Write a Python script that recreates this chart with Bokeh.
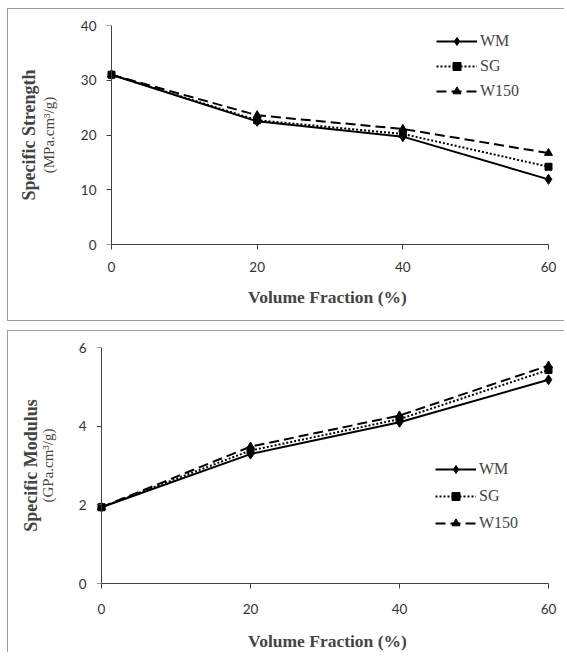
from bokeh.plotting import figure
from bokeh.models import LinearAxis, Legend, LegendItem, FixedTicker, Range1d
from bokeh.layouts import column
from bokeh.embed import file_html
from bokeh.resources import INLINE

# ---- data ----
volume_fraction = [0, 20, 40, 60]
strength_wm = [31.0, 22.5, 19.7, 11.9]
strength_sg = [31.0, 22.7, 20.2, 14.2]
strength_w150 = [31.0, 23.6, 21.1, 16.7]
modulus_wm = [1.94, 3.29, 4.10, 5.18]
modulus_sg = [1.94, 3.38, 4.18, 5.43]
modulus_w150 = [1.94, 3.48, 4.27, 5.54]
series_names = ["WM", "SG", "W150"]
strength_ticks = [0, 10, 20, 30, 40]
modulus_ticks = [0, 2, 4, 6]
x_ticks = [0, 20, 40, 60]

AXIS_COLOR = "#404040"
TICK_FONT = "Lato"
TITLE_FONT = "Liberation Serif"
PANEL_BORDER = "1px solid #9c9c9c"

styles_spec = [
    dict(line_dash="solid", marker="diamond", size=10),
    dict(line_dash="2 2", marker="square", size=7),
    dict(line_dash="10 5", marker="triangle", size=8),
]


def make_panel(width, height, xpad, ymax, yticks, series, title1, title2,
               borders, ystand, xstand, legend_loc, legend_spacing, css):
    p = figure(width=width, height=height, output_backend="svg",
               toolbar_location=None, x_range=Range1d(-xpad[0], 60 + xpad[1]),
               y_range=Range1d(0, ymax), y_axis_location=None,
               min_border_left=borders[0], min_border_top=borders[1],
               min_border_right=borders[2], min_border_bottom=borders[3],
               styles=css)
    p.grid.visible = False
    p.outline_line_color = None
    xa = p.xaxis[0]
    xa.ticker = FixedTicker(ticks=x_ticks)
    xa.bounds = (0, 60)
    # axis line + ticks drawn at x = 0
    ax_line = LinearAxis(ticker=FixedTicker(ticks=yticks), fixed_location=0,
                         major_label_overrides={t: "" for t in yticks},
                         major_label_standoff=0)
    p.add_layout(ax_line, "left")
    # tick labels and unit line of the title
    ax_lab = LinearAxis(ticker=FixedTicker(ticks=yticks), axis_label=title2,
                        major_tick_out=0, major_tick_in=0,
                        major_tick_line_color=None, minor_tick_line_color=None,
                        axis_line_color=None)
    p.add_layout(ax_lab, "left")
    ax_t = LinearAxis(ticker=FixedTicker(ticks=[]), axis_label=title1,
                      major_tick_out=0, major_tick_in=0,
                      major_tick_line_color=None, minor_tick_line_color=None,
                      axis_line_color=None, major_label_standoff=0,
                      axis_label_standoff=ystand[2])
    p.add_layout(ax_t, "left")
    for ax in [xa, ax_line]:
        ax.axis_line_color = AXIS_COLOR
        ax.major_tick_line_color = AXIS_COLOR
        ax.minor_tick_line_color = None
        ax.major_tick_out = 5
        ax.major_tick_in = 0
    for ax in [xa, ax_lab]:
        ax.major_label_text_font = TICK_FONT
        ax.major_label_text_font_size = "13.5px"
        ax.major_label_text_color = "#333333"
    xa.major_label_standoff = xstand[0]
    xa.axis_label = "Volume Fraction (%)"
    xa.axis_label_text_font = TITLE_FONT
    xa.axis_label_text_font_style = "bold"
    xa.axis_label_text_font_size = "17.5px"
    xa.axis_label_standoff = xstand[1]
    ax_lab.major_label_standoff = ystand[0]
    ax_lab.axis_label_text_font = TITLE_FONT
    ax_lab.axis_label_text_font_style = "normal"
    ax_lab.axis_label_text_font_size = "15px"
    ax_lab.axis_label_standoff = ystand[1]
    ax_t.axis_label_text_font = TITLE_FONT
    ax_t.axis_label_text_font_style = "bold"
    ax_t.axis_label_text_font_size = "18px"

    items = []
    for name, vals, st in zip(series_names, series, styles_spec):
        ln = p.line(volume_fraction, vals, line_color="black", line_width=2,
                    line_dash=st["line_dash"])
        sc = p.scatter(volume_fraction, vals, marker=st["marker"],
                       size=st["size"], fill_color="black", line_color="black")
        items.append(LegendItem(label=name, renderers=[ln, sc]))
    leg = Legend(items=items, location=legend_loc, padding=0, margin=0,
                 border_line_color=None, background_fill_alpha=0,
                 glyph_width=41, glyph_height=20, label_height=20,
                 spacing=legend_spacing, label_standoff=3,
                 label_text_font=TITLE_FONT, label_text_font_size="16px")
    p.add_layout(leg, "center")
    return p


top = make_panel(557, 313, (2.0595, 1.373), 40, strength_ticks,
                 [strength_wm, strength_sg, strength_w150],
                 "Specific Strength", "(MPa.cm³/g)",
                 (88, 16, 7, 78), (0, 21, -1), (12, 12), (340, 143), 5,
                 {"border-left": PANEL_BORDER, "border-top": PANEL_BORDER,
                  "border-bottom": PANEL_BORDER})
bottom = make_panel(557, 322, (0.671, 1.342), 6, modulus_ticks,
                    [modulus_wm, modulus_sg, modulus_w150],
                    "Specific Modulus", "(GPa.cm³/g)",
                    (88, 16, 7, 70), (10, 20, -4), (15, 14), (339, 50), 7,
                    {"border-left": PANEL_BORDER, "border-top": PANEL_BORDER})

layout = column(top, bottom, spacing=9,
                styles={"padding-left": "7px", "padding-top": "8px"})
open("out.html", "w").write(file_html(layout, INLINE))
